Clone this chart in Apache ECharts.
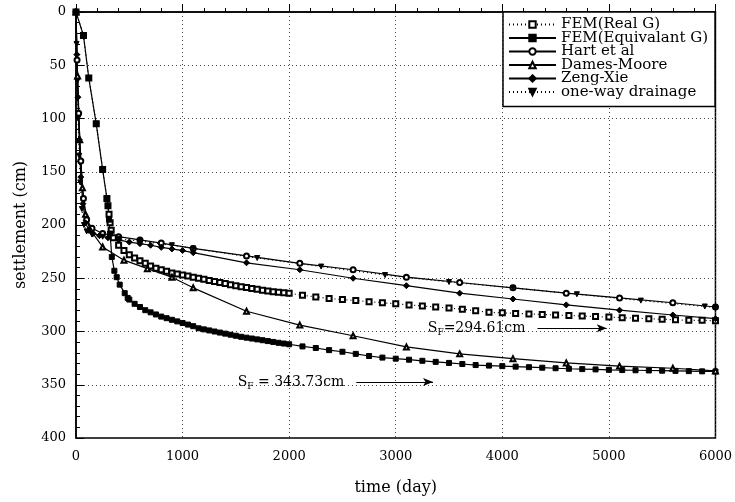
<!DOCTYPE html>
<html>
<head>
<meta charset="utf-8">
<script src="https://cdn.jsdelivr.net/npm/echarts@6/dist/echarts.min.js"></script>
<style>html,body{margin:0;padding:0;background:#fff}#c{width:735px;height:502px}</style>
</head>
<body>
<div id="c"></div>
<script>
// ---- data (day, settlement cm) ----
const femReal = [[0,0],[70,22],[120,62],[190,105],[250,148],[290,175],[300,182],[310,190],[320,198],[330,205],[350,212],[400,219],[450,224],[500,228],[550,231],[600,233.5],[650,236],[700,238.5],[750,240.5],[800,242],[850,243.5],[900,245],[950,246],[1000,247],[1050,248],[1100,249],[1150,250],[1200,251],[1250,252],[1300,253],[1350,254],[1400,255],[1450,256],[1500,257],[1550,258],[1600,258.8],[1650,259.6],[1700,260.4],[1750,261.2],[1800,262],[1850,262.6],[1900,263.2],[1950,263.6],[2000,264],
  [2125,266],[2250,267.5],[2375,269],[2500,270],[2625,271],[2750,272],[2875,273],[3000,274],[3125,275],[3250,276],[3375,277],[3500,278],[3625,279],[3750,280.5],[3875,282],[4000,282.5],[4125,283],[4250,283.5],[4375,284],[4500,284.5],[4625,285],[4750,285.5],[4875,286],[5000,286.5],[5125,287],[5250,287.5],[5375,288],[5500,288.5],[5625,289],[5750,289.5],[5875,289.5],[6000,290]];
const femEquiv = [[0,0],[70,22],[120,62],[190,105],[250,148],[290,175],[300,182],[310,195],[320,208],[336,230],[360,243],[382,249],[410,256],[457,264],[485,268.5],[500,270],[550,274],[600,277],[650,280],[700,282],[750,284],[800,286],[850,287.5],[900,289],[950,290.5],[1000,292],[1050,293.5],[1100,295],[1150,297],[1200,298],[1250,299],[1300,300],[1350,301],[1400,302],[1450,303],[1500,304],[1550,305],[1600,305.8],[1650,306.6],[1700,307.4],[1750,308.2],[1800,309],[1850,309.8],[1900,310.6],[1950,311.3],[2000,312],
  [2125,314],[2250,315.5],[2375,317.5],[2500,319],[2625,321],[2750,323],[2875,324.5],[3000,325.5],[3125,326.5],[3250,327.5],[3375,328.5],[3500,329.5],[3625,330.5],[3750,331.5],[3875,332],[4000,332.5],[4125,333],[4250,333.5],[4375,334],[4500,334.5],[4625,335],[4750,335.3],[4875,335.6],[5000,336],[5125,336.2],[5250,336.4],[5375,336.6],[5500,336.8],[5625,337],[5750,337.2],[5875,337.4],[6000,337.5]];
const hart = [[0,0],[10,45],[25,95],[45,140],[70,175],[100,195],[150,203],[250,208],[400,211],[600,214],[800,217],[1100,222],[1600,229],[2100,236],[2600,242],[3100,249],[3600,254],[4100,259],[4600,264],[5100,268.5],[5600,273],[6000,277]];
const damesMoore = [[0,0],[15,60],[35,120],[60,165],[90,190],[130,204],[250,220.6],[450,233],[670,241],[900,249],[1100,259],[1600,281],[2100,294],[2600,304],[3100,314.5],[3600,321],[4100,325.5],[4600,329.5],[5100,332.5],[5600,334.5],[6000,337]];
const zengXie = [[0,0],[8,40],[18,80],[30,120],[45,155],[65,180],[90,198],[120,205],[160,208],[220,210],[300,212],[400,214],[500,216],[600,217.5],[700,219],[800,221],[900,222.5],[1000,224],[1100,226],[1600,235.5],[2100,242],[2600,250],[3100,257],[3600,264],[4100,269.5],[4600,275],[5100,280],[5600,284.5],[6000,288]];
const oneWay = [[0,0],[5,30],[12,65],[20,100],[30,135],[40,160],[55,185],[75,200],[100,206],[150,209],[250,211],[400,213],[600,215],[900,219],[1100,222],[1700,231],[2300,239],[2900,247],[3500,253.5],[4100,259],[4700,265],[5300,271],[5900,276.5],[6000,277.5]];
const seriesNames = ['FEM(Real G)','FEM(Equivalant G)','Hart et al','Dames-Moore','Zeng-Xie','one-way drainage'];
const sfReal = {text:'=294.61cm', from:[4330,297], to:[4980,297]};
const sfEquiv = {text:' = 343.73cm', from:[2630,347.5], to:[3350,347.5]};

const SERIF = '"DejaVu Serif","Liberation Serif",serif';
const chart = echarts.init(document.getElementById('c'), null, {renderer:'canvas'});

function arrowLine(sf){
  return {
    silent:true, symbol:['none','arrow'], symbolSize:[6,10], animation:false,
    lineStyle:{type:'solid', color:'#000', width:1},
    label:{show:true, position:'start', distance:12, color:'#000',
      formatter:'{a|S}{b|F}{a|'+sf.text+'}',
      rich:{a:{fontSize:14, fontFamily:SERIF, color:'#000'}, b:{fontSize:9, fontFamily:SERIF, color:'#000', padding:[9,0,0,0]}}},
    data:[[{coord:sf.from},{coord:sf.to}]]
  };
}
function mk(name, data, symbol, lineType, extra){
  return Object.assign({
    name, type:'line', data, symbol, symbolSize:5, showSymbol:true,
    lineStyle:{color:'#000', width:1.2, type:lineType},
    itemStyle:{color:'#000', borderColor:'#000', borderWidth:1},
    animation:false, z:3
  }, extra||{});
}
const plain = v => String(v);
chart.setOption({
  backgroundColor:'#fff',
  grid:{left:76, right:16, top:12, bottom:64, show:true, borderColor:'#000', borderWidth:1.5},
  legend:{
    orient:'vertical', left:503, top:12, padding:[5,7,7,5],
    backgroundColor:'#fff', borderColor:'#000', borderWidth:1.5,
    itemWidth:47, itemHeight:8, itemGap:-1.5,
    textStyle:{fontFamily:SERIF, fontSize:15, color:'#000'},
    data:seriesNames
  },
  xAxis:{type:'value', min:0, max:6000, interval:1000,
    name:'time (day)', nameLocation:'middle', nameGap:42,
    nameTextStyle:{fontFamily:SERIF, fontSize:16, color:'#000'},
    axisLine:{lineStyle:{color:'#000', width:1.5}},
    axisTick:{inside:true, length:8, lineStyle:{color:'#000'}},
    minorTick:{show:true, splitNumber:5, length:4, lineStyle:{color:'#000'}},
    axisLabel:{fontFamily:SERIF, fontSize:13, color:'#000', margin:12, formatter:plain},
    splitLine:{show:true, lineStyle:{type:[1,3], color:'#444', width:1}}
  },
  yAxis:{type:'value', min:0, max:400, interval:50, inverse:true,
    name:'settlement (cm)', nameLocation:'middle', nameGap:47, nameRotate:90,
    nameTextStyle:{fontFamily:SERIF, fontSize:16, color:'#000'},
    axisLine:{lineStyle:{color:'#000', width:1.5}},
    axisTick:{inside:true, length:8, lineStyle:{color:'#000'}},
    minorTick:{show:true, splitNumber:5, length:4, lineStyle:{color:'#000'}},
    axisLabel:{fontFamily:SERIF, fontSize:13, color:'#000', margin:10, formatter:plain},
    splitLine:{show:true, lineStyle:{type:[1,3], color:'#444', width:1}}
  },
  series:[
    mk(seriesNames[0], femReal, 'emptyRect', [1,3], {markLine:arrowLine(sfReal)}),
    mk(seriesNames[1], femEquiv, 'rect', 'solid', {markLine:arrowLine(sfEquiv)}),
    mk(seriesNames[2], hart, 'emptyCircle', 'solid'),
    mk(seriesNames[3], damesMoore, 'emptyTriangle', 'solid'),
    mk(seriesNames[4], zengXie, 'diamond', 'solid', {symbolSize:6}),
    mk(seriesNames[5], oneWay, 'triangle', [1,3], {symbolRotate:180})
  ]
});
</script>
</body>
</html>
